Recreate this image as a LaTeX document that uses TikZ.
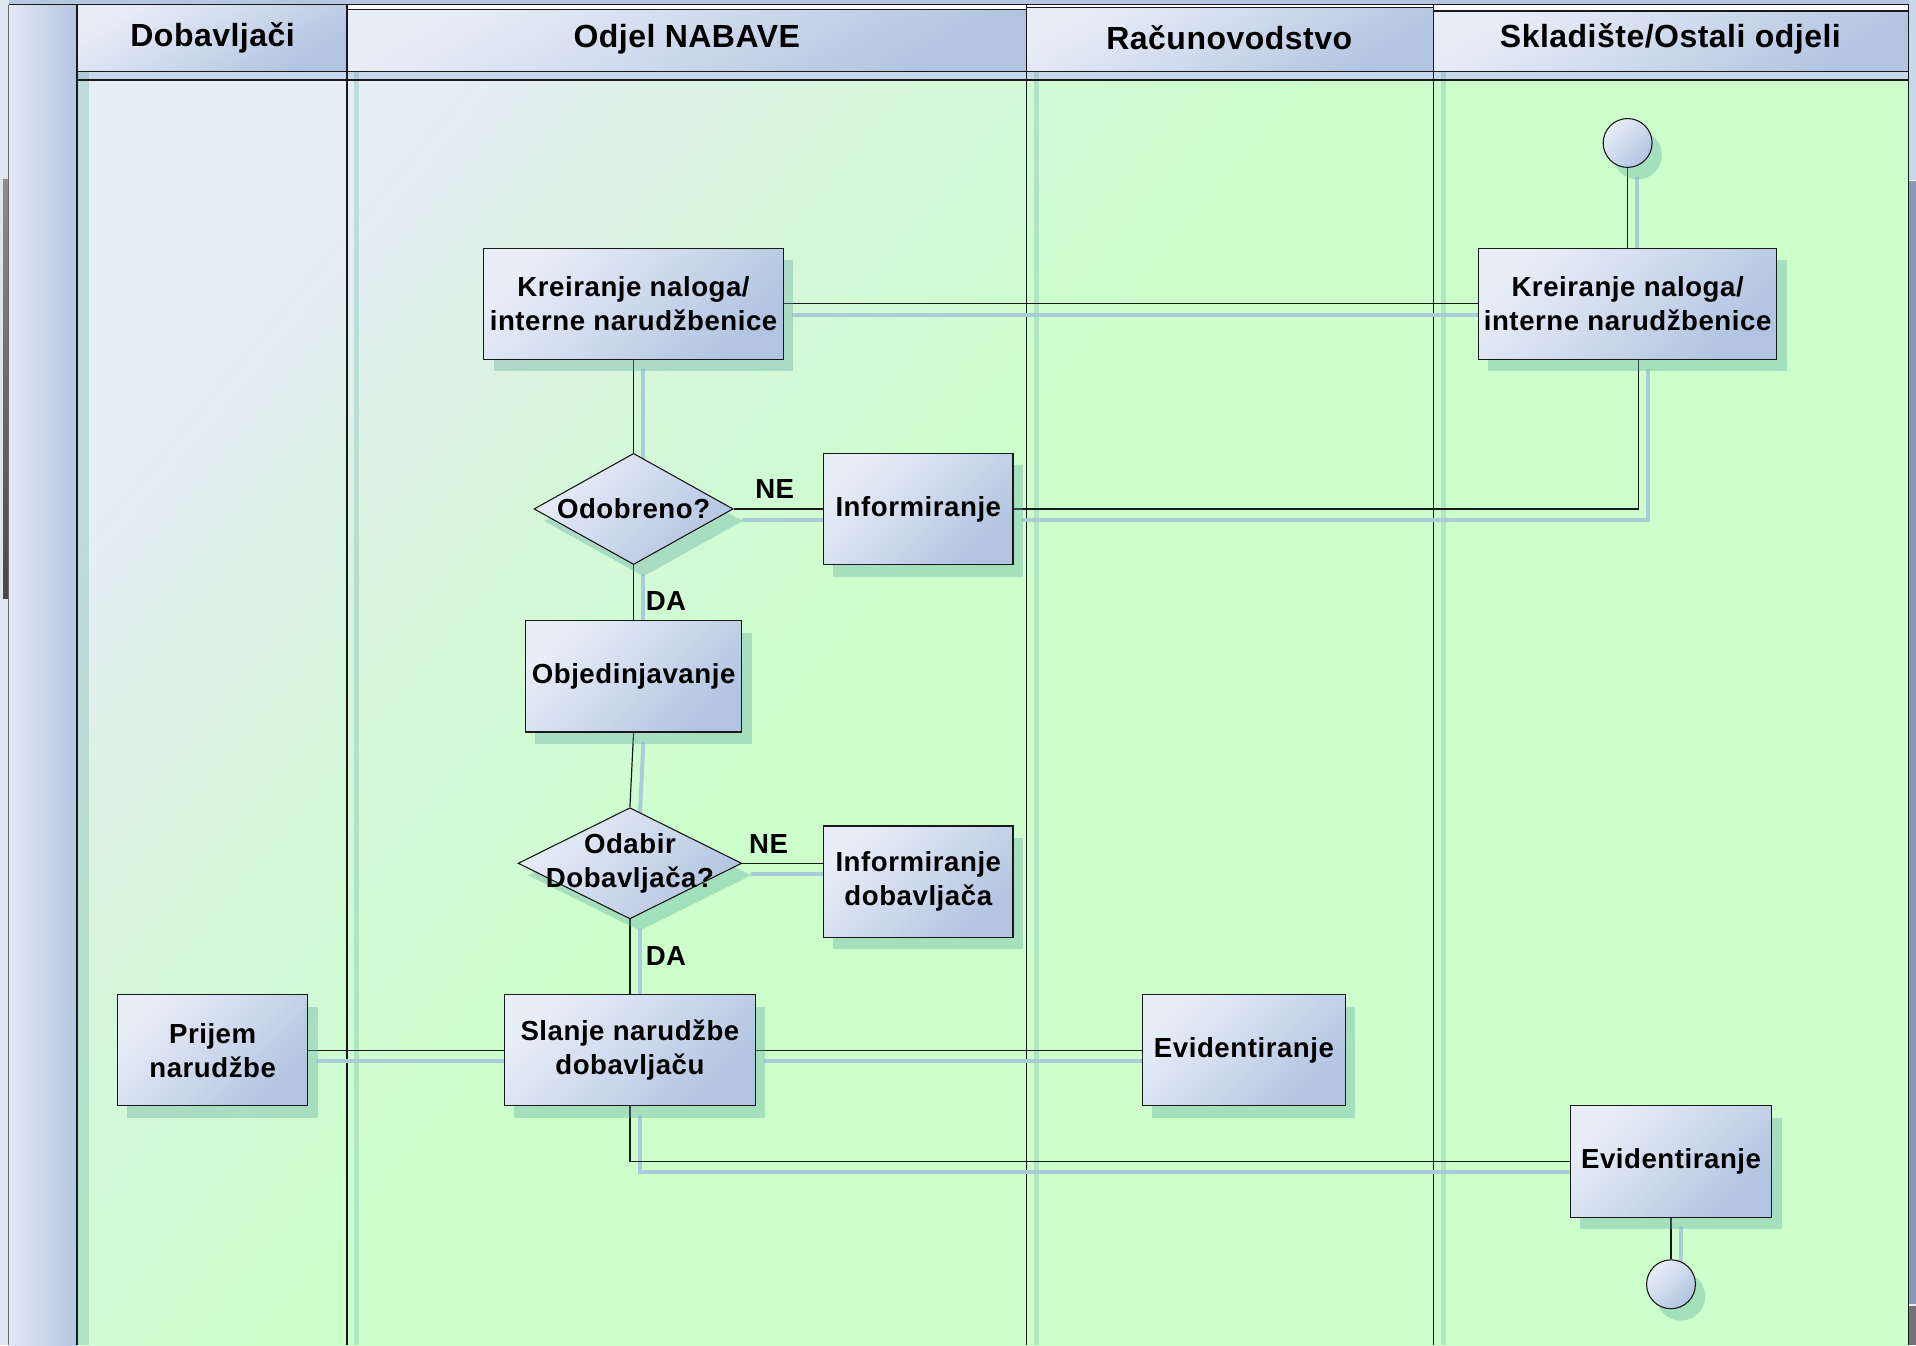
\documentclass[tikz,border=0pt]{standalone}
\usepackage{fontspec}
\setmainfont{Liberation Sans}[LetterSpace=2]
\usetikzlibrary{shapes.geometric,shadows,calc}
\definecolor{bgA}{HTML}{E6EEF6}
\definecolor{bgM}{HTML}{D8F4DE}
\definecolor{bgB}{HTML}{CCFFCC}
\definecolor{nA}{HTML}{E8EEF8}
\definecolor{nB}{HTML}{B2C4E1}
\definecolor{hA}{HTML}{E8EEF8}
\definecolor{hB}{HTML}{B6C7E2}
\definecolor{lshc}{HTML}{A9CCD9}
\definecolor{nshc}{HTML}{5FA8A0}
\definecolor{barA}{HTML}{E0E8F5}
\definecolor{barB}{HTML}{B6C6E0}
\definecolor{stripc}{HTML}{C8D8EC}
\definecolor{edgec}{HTML}{DCE6EE}
\definecolor{rgray}{HTML}{8898B0}
\pgfdeclarehorizontalshading{bgsh}{100bp}{color(0bp)=(bgA); color(24bp)=(bgA); color(32bp)=(bgM); color(45bp)=(bgB); color(100bp)=(bgB)}
\pgfdeclarehorizontalshading{nsh}{100bp}{color(0bp)=(nA); color(25bp)=(nA); color(75bp)=(nB); color(100bp)=(nB)}
\pgfdeclarelayer{back}
\pgfdeclarelayer{conns}
\pgfsetlayers{back,conns,main}
\def\uu{0.611pt}
\tikzset{
  nodefill/.style={shading=nsh, shading angle=-45},
  nshadow/.style={drop shadow={shadow xshift=4.9pt, shadow yshift=-6pt, fill=nshc, opacity=0.35}},
  box/.style={draw=black!90, line width=0.55pt, nodefill, nshadow, inner sep=0pt,
    minimum height=91*\uu, align=center, font=\bfseries\fontsize{13.8}{17}\selectfont},
  dia/.style={diamond, draw=black!90, line width=0.55pt, nodefill, nshadow, inner sep=0pt,
    minimum height=91*\uu},
  dtext/.style={align=center, font=\bfseries\fontsize{13.8}{17}\selectfont, inner sep=0pt},
  term/.style={circle, draw=black!90, line width=0.55pt, nodefill, nshadow, inner sep=0pt, minimum size=40*\uu},
  conn/.style={draw=black!90, line width=0.6pt,
    preaction={draw=lshc, line width=2pt, line cap=round, transform canvas={shift={(4.9pt,-5.5pt)}}}},
  lbl/.style={font=\bfseries\fontsize{13.8}{16}\selectfont, inner sep=0pt},
  hdr/.style={font=\bfseries\fontsize{16}{19}\selectfont\addfontfeatures{LetterSpace=1.5}, inner sep=0pt},
  hdrbox/.style={draw=black!90, line width=0.55pt, shading=nsh, shading angle=-60},
  lanesh/.style={fill=nshc, opacity=0.28}
}
\begin{document}
\begin{tikzpicture}[x=0.611pt,y=-0.611pt]
\useasboundingbox (0,0) rectangle (1568,1101);
\begin{pgfonlayer}{back}
  % outer edges
  \fill[edgec] (0,0) rectangle (7,1101);
  \shade[top color=black!45, bottom color=black!72] (2.5,147) rectangle (6.5,490);
  \fill[hB] (7,0) rectangle (1562,4);
  \fill[stripc] (1562,0) rectangle (1568,147);
  \fill[white] (1562,147) rectangle (1568,148.5);
  \fill[rgray] (1562,148.5) rectangle (1568,1067);
  \fill[white!85!gray] (1562,1067) rectangle (1568,1069);
  \fill[black!55] (1562,1069) rectangle (1568,1101);
  % body
  \shade[shading=bgsh, shading angle=-40] (63,65.5) rectangle (1562,1101);
  \fill[stripc] (63,58.5) rectangle (1562,65.5);
  % lane shadows
  \fill[lanesh] (64,58.5) rectangle (73,1101);
  \fill[lanesh] (290,58.5) rectangle (294,1101);
  \fill[lanesh] (846,58.5) rectangle (850,1101);
  \fill[lanesh] (1179,58.5) rectangle (1183,1101);
  % left bar
  \shade[left color=barA, right color=barB] (7,4) rectangle (63,1101);
  \draw[black!60, line width=0.5pt] (7,4) -- (7,1101);
  % headers
  \shade[hdrbox] (63,4) rectangle (284,58.5);
  \shade[hdrbox] (284,8) rectangle (840,58.5);
  \shade[hdrbox] (840,6) rectangle (1173,58.5);
  \shade[hdrbox] (1173,9) rectangle (1562,58.5);
  \draw[black!90, line width=0.55pt] (7,4) -- (1562,4);
  \draw[black!90, line width=0.55pt] (63,65.5) -- (1562,65.5);
  \foreach \xx in {63,284,840,1173,1562}
    \draw[black!90, line width=0.6pt] (\xx,4) -- (\xx,1101);
\end{pgfonlayer}

% header texts
\node[hdr] (h1) at (174,31) {Dobavljači};
\node[hdr] (h2) at (562,32) {Odjel NABAVE};
\node[hdr] (h3) at (1006,30.5) {Računovodstvo};
\node[hdr] (h4) at (1367,32) {Skladište/Ostali odjeli};

% nodes
\node[term] (start) at (1332,117) {};
\node[box, minimum width=245*\uu] (k1) at (518.5,248.5) {Kreiranje naloga/\\interne narudžbenice};
\node[box, minimum width=244*\uu] (k2) at (1332,248.5) {Kreiranje naloga/\\interne narudžbenice};
\node[dia, minimum width=163*\uu, label={[dtext]center:Odobreno?}] (d1) at (518.5,416.5) {};
\node[box, minimum width=155*\uu] (inf1) at (751.5,416.5) {Informiranje};
\node[box, minimum width=177*\uu] (obj) at (518.5,553.5) {Objedinjavanje};
\node[dia, minimum width=183*\uu, label={[dtext]center:Odabir\\Dobavljača?}] (d2) at (515.5,706.5) {};
\node[box, minimum width=155*\uu] (inf2) at (751.5,721.5) {Informiranje\\dobavljača};
\node[box, minimum width=156*\uu] (prijem) at (174,859.5) {Prijem\\narudžbe};
\node[box, minimum width=205*\uu] (slanje) at (515.5,859.5) {Slanje narudžbe\\dobavljaču};
\node[box, minimum width=166*\uu] (evid1) at (1018,859.5) {Evidentiranje};
\node[box, minimum width=165*\uu] (evid2) at (1367.5,950.5) {Evidentiranje};
\node[term] (end) at (1367.5,1051) {};

% labels
\node[lbl] (ne1) at (634,400.5) {NE};
\node[lbl] (da1) at (545,491.5) {DA};
\node[lbl] (ne2) at (629,690.5) {NE};
\node[lbl] (da2) at (545,782) {DA};

% connectors
\begin{pgfonlayer}{conns}
\coordinate (k2b) at ([xshift=9*\uu]k2.south);
\draw[conn] (k1.east) -- (k2.west);
\draw[conn] (start.south) -- (k2.north);
\draw[conn] (k1.south) -- (d1.north);
\draw[conn] (d1.east) -- (inf1.west);
\draw[conn] (inf1.east) -| (k2b);
\draw[conn] (d1.south) -- (obj.north);
\draw[conn] (obj.south) -- (d2.north);
\draw[conn] (d2.east) -- (d2.east -| inf2.west);
\draw[conn] (d2.south) -- (slanje.north);
\draw[conn] (prijem.east) -- (slanje.west);
\draw[conn] (slanje.east) -- (evid1.west);
\draw[conn] (slanje.south) |- (evid2.west);
\draw[conn] (evid2.south) -- (end.north);
\end{pgfonlayer}
\end{tikzpicture}
\end{document}
